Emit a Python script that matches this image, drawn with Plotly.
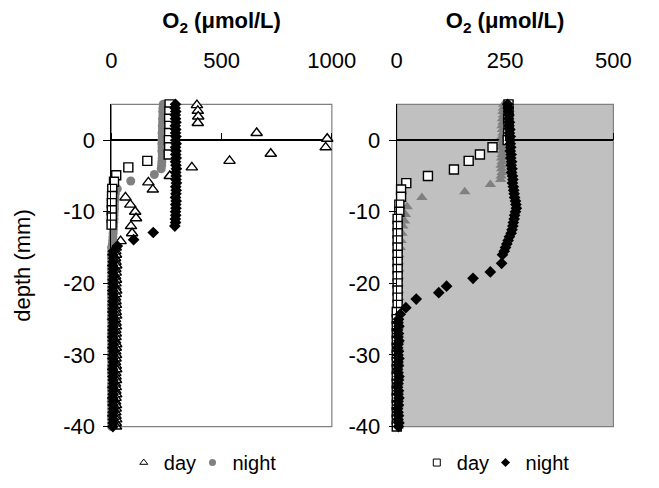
import plotly.graph_objects as go

# ---------------- data ----------------
# shared deep depth grid (mm), 0.5 mm steps
DEEP = [-15.0, -15.5, -16.0, -16.5, -17.0, -17.5, -18.0, -18.5, -19.0, -19.5,
        -20.0, -20.5, -21.0, -21.5, -22.0, -22.5, -23.0, -23.5, -24.0, -24.5,
        -25.0, -25.5, -26.0, -26.5, -27.0, -27.5, -28.0, -28.5, -29.0, -29.5,
        -30.0, -30.5, -31.0, -31.5, -32.0, -32.5, -33.0, -33.5, -34.0, -34.5,
        -35.0, -35.5, -36.0, -36.5, -37.0, -37.5, -38.0, -38.5, -39.0, -39.5,
        -40.0]

# Left panel: day (open triangles)
L_day_depth = [4.9, 4.1, 3.3, 2.4, 1.0, 0.2, -1.0, -1.9, -2.9, -3.8, -5.0, -5.9,
               -6.9, -8.0, -9.0, -10.0, -10.9, -12.0, -13.0, -14.1] + DEEP
L_day_o2 = [388, 392, 394, 392, 659, 979, 972, 723, 536, 365, 265, 168,
            188, 64, 86, 108, 112, 89, 94, 42,
            20, 18, 21, 17, 19, 22, 18, 20, 17, 21, 19, 18, 22, 20, 17, 19, 21,
            18, 20, 22, 17, 19, 21, 18, 20, 19, 17, 22, 20, 18, 21, 19, 17, 20,
            22, 18, 19, 21, 17, 20, 18, 22, 19, 17, 21, 20, 18, 19, 22, 20, 21]

# Left panel: night (grey circles)
L_night_depth = [5.5, 5.0, 4.5, 4.0, 3.5, 3.0, 2.5, 2.0, 1.5, 1.0, 0.5, 0.0,
                 -0.5, -1.0, -1.5, -2.0, -2.5, -3.0, -3.5, -4.0, -4.8, -5.7,
                 -6.8, -7.5, -8.0, -8.5, -9.0, -9.5, -10.0, -10.5, -11.0, -11.5,
                 -12.0, -12.5, -13.0, -13.5, -14.0, -14.5] + DEEP
L_night_o2 = [236, 235, 234, 233, 234, 232, 233, 231, 232, 230, 231, 230,
              229, 230, 229, 231, 230, 229, 228, 226, 195, 88,
              27, 18, 16, 15, 14, 14, 13, 12, 12, 11,
              10, 9, 8, 7, 6, 5,
              1, 2, 0, 1, 2, 1, 0, 2, 1, 0, 2, 1, 2, 0, 1, 2, 0,
              1, 2, 1, 0, 2, 1, 2, 0, 1, 1, 2, 0, 2, 1, 0, 2, 1,
              1, 0, 2, 2, 1, 0, 1, 2, 1, 0, 2, 1, 2, 0, 1, 2, 1]

# Left panel: extra profile (open squares, not in legend)
L_sq_depth = [5.0, 4.0, 3.0, 2.0, 1.0, 0.0, -1.0, -2.0, -2.9, -3.8, -4.9, -5.8,
              -6.8, -7.8, -8.8, -9.8, -10.8, -11.8]
L_sq_o2 = [264, 263, 262, 263, 262, 261, 262, 260, 163, 77, 22, 12,
           4, 3, 2, 2, 2, 1]

# Left panel: extra profile (black diamonds, not in legend)
L_dia_depth = [5.5, 5.0, 4.5, 4.0, 3.5, 3.0, 2.5, 2.0, 1.5, 1.0, 0.5, 0.0,
               -0.5, -1.0, -1.5, -2.0, -2.5, -3.0, -3.5, -4.0, -4.5, -5.0,
               -5.5, -6.0, -6.5, -7.0, -7.5, -8.0, -8.5, -9.0, -9.5, -10.0,
               -10.5, -11.0, -11.5, -12.0, -12.9, -13.9, -14.8] + DEEP[1:]
L_dia_o2 = [290, 291, 289, 292, 290, 291, 293, 290, 292, 291, 293, 292,
            294, 291, 293, 292, 294, 291, 293, 295, 292, 294, 293, 295,
            292, 294, 293, 291, 294, 292, 293, 291, 292, 290, 291, 288,
            190, 101, 27,
            9, 7, 10, 8, 6, 9, 7, 10, 8, 7, 9, 6, 8, 10, 7, 9, 8,
            6, 9, 7, 10, 8, 7, 9, 6, 8, 9, 7, 10, 8, 7, 9, 8, 6,
            9, 7, 8, 10, 7, 9, 8, 6, 9, 7, 10, 8, 7, 9, 8, 7]

# Right panel: day (open squares)
R_day_depth = [5.0, 4.0, 3.0, 2.0, 1.0, 0.0, -1.0, -2.0, -2.9, -4.1, -5.0, -6.0,
               -6.9, -7.9, -9.0, -10.0, -11.0, -12.0, -13.0, -14.0, -15.0, -16.0,
               -17.0, -18.0, -19.0, -20.0, -21.0, -22.0, -23.0, -24.0, -25.0,
               -26.0, -27.0, -28.0, -29.0, -30.0, -31.0, -32.0, -33.0, -34.0,
               -35.0, -36.0, -37.0, -38.0, -39.0, -40.0]
R_day_o2 = [258, 258, 257, 258, 257, 256, 221, 192, 166, 132, 72, 22,
            10, 10, 6, 6, 2, 2, 2, 2, 2, 2,
            2, 2, 2, 2, 2, 2, 2, 0, 0,
            0, 0, 0, 0, 0, 0, 0, 0, 0,
            0, 0, 0, 0, 0, 0]

# Right panel: night (black diamonds)
R_night_depth = [5.0, 4.5, 4.0, 3.5, 3.0, 2.5, 2.0, 1.5, 1.0, 0.5, 0.0,
                 -0.5, -1.0, -1.5, -2.0, -2.5, -3.0, -3.5, -4.0, -4.5, -5.0,
                 -5.5, -6.0, -6.5, -7.0, -7.5, -8.0, -8.5, -9.0, -9.5, -10.0,
                 -10.5, -11.0, -11.5, -12.0, -12.5, -13.0, -13.5, -14.0, -14.5,
                 -15.0, -15.5, -16.0, -17.2, -18.4, -19.3, -20.4, -21.3, -22.2,
                 -23.4, -24.3] + DEEP[20:]
R_night_o2 = [256, 257, 258, 259, 258, 260, 259, 261, 260, 262, 262,
              262, 263, 262, 264, 263, 265, 264, 266, 265, 267,
              268, 267, 269, 270, 271, 272, 274, 275, 276, 274,
              272, 271, 269, 268, 266, 264, 260, 257, 254,
              251, 248, 244, 242, 216, 176, 115, 97, 45,
              21, 8,
              4, 3, 5, 2, 4, 3, 5, 3, 2, 4, 3, 5, 3, 4, 2, 3, 5, 4, 3, 2, 4, 3,
              5, 3, 4, 2, 3, 4, 3, 5, 4]

# Right panel: extra profile (grey triangles, not in legend)
R_tri_depth = [5.0, 4.5, 4.0, 3.5, 3.0, 2.5, 2.0, 1.5, 1.0, 0.5, 0.0,
               -0.5, -1.0, -1.5, -2.0, -2.5, -3.0, -3.5, -4.0, -4.5, -5.0,
               -5.5, -6.2, -7.2, -8.0, -9.3, -10.4, -11.3, -12.0, -13.0, -14.0,
               -15.0, -16.0, -17.0, -18.0, -19.0, -20.0, -21.0, -22.0, -23.0,
               -24.0, -25.0, -26.0, -27.0, -28.0, -29.0, -30.0, -31.0, -32.0,
               -33.0, -34.0, -35.0, -36.0, -37.0, -38.0, -39.0, -40.0]
R_tri_o2 = [247, 246, 245, 246, 244, 245, 243, 244, 245, 243, 244,
            243, 242, 244, 243, 242, 243, 241, 242, 243, 241,
            240, 216, 157, 58, 24, 20, 18, 14, 12, 10,
            8, 5, 4, 5, 4, 3, 4, 5, 3,
            4, 3, 4, 3, 5, 4, 3, 4, 3,
            4, 3, 4, 3, 4, 3, 4, 3]

X_TITLE = "<b>O<sub>2</sub> (μmol/L)</b>"
Y_TITLE = "depth (mm)"
LEFT_TICKS = [0, 500, 1000]
RIGHT_TICKS = [0, 250, 500]
DEPTH_TICKS = [0, -10, -20, -30, -40]
DEPTH_TICK_TEXT = ["0", "-10", "-20", "-30", "-40"]

# ---------------- figure ----------------
W, H = 659, 488
FAM = "Liberation Sans, Arial, sans-serif"
FONT = dict(family=FAM, size=22, color="black")
TFONT = dict(family=FAM, size=22, color="black")
LFONT = dict(family=FAM, size=20, color="black")
GREY = "#808080"

fig = go.Figure()

def add(x, y, xa, ya, symbol, size, fill, line_w=1.4, line_c="black"):
    fig.add_trace(go.Scatter(
        x=x, y=y, xaxis=xa, yaxis=ya, mode="markers", showlegend=False,
        cliponaxis=False, hoverinfo="skip",
        marker=dict(symbol=symbol, size=size, color=fill,
                    line=dict(width=line_w, color=line_c))))

# left panel
add(L_day_o2, L_day_depth, "x", "y", "triangle-up", 10, "white")
add(L_night_o2, L_night_depth, "x", "y", "circle", 9, GREY, 0, GREY)
add(L_sq_o2, L_sq_depth, "x", "y", "square", 9, "white")
add(L_dia_o2, L_dia_depth, "x", "y", "diamond", 9, "black", 0)
# right panel
add(R_tri_o2, R_tri_depth, "x2", "y2", "triangle-up", 10, GREY, 0, GREY)
add(R_day_o2, R_day_depth, "x2", "y2", "square", 9, "white")
add(R_night_o2, R_night_depth, "x2", "y2", "diamond", 9, "black", 0)

# legend entries (one small legend per entry, to control spacing)
def leg(name, symbol, fill, legend, lw=1, size=7):
    fig.add_trace(go.Scatter(
        x=[None], y=[None], mode="markers", name=name, legend=legend,
        marker=dict(symbol=symbol, size=size, color=fill,
                    line=dict(width=lw, color="black" if lw else fill))))

leg("day", "triangle-up", "white", "legend")
leg("night", "circle", GREY, "legend2", 0)
leg("day", "square", "white", "legend3")
leg("night", "diamond", "black", "legend4", 0)

# dummy traces so the tick-only overlay axes exist
for xa, ya in (("x3", "y"), ("x4", "y2")):
    fig.add_trace(go.Scatter(x=[None], y=[None], xaxis=xa, yaxis=ya,
                             showlegend=False, hoverinfo="skip"))

yb, yt = 1 - 430 / H, 1 - 99 / H
xdomL = [102 / W, 333 / W]
xdomR = [401 / W, 628 / W]
zero_pos = yb + (0 - (-40)) / 45 * (yt - yb)
lab_pos = 1 - 66 / H

common_x = dict(side="top", anchor="free", position=lab_pos, showgrid=False,
                zeroline=False, showline=False, ticks="", tickfont=FONT,
                title=dict(text=X_TITLE, font=TFONT, standoff=20))
common_y = dict(range=[-40, 5], tickvals=DEPTH_TICKS, ticktext=DEPTH_TICK_TEXT,
                showgrid=False,
                zeroline=True, zerolinecolor="black", zerolinewidth=1.5,
                showline=True, linecolor="black", linewidth=1,
                ticks="outside", ticklen=7, tickcolor="black", tickfont=FONT,
                ticklabelstandoff=4)
tick_x = dict(side="top", anchor="free", position=zero_pos, ticks="outside",
              ticklen=7, tickcolor="black", showticklabels=False,
              showgrid=False, zeroline=False, showline=False)

def legend_at(px):
    return dict(orientation="h", x=px / W, xanchor="left",
                y=1 - 467 / H, yanchor="middle", font=LFONT, itemwidth=30,
                bgcolor="rgba(0,0,0,0)")

fig.update_layout(
    width=W, height=H, margin=dict(l=0, r=0, t=0, b=0),
    paper_bgcolor="white", plot_bgcolor="white", font=FONT,
    xaxis=dict(domain=xdomL, range=[0, 1000], tickvals=LEFT_TICKS, **common_x),
    xaxis2=dict(domain=xdomR, range=[0, 500], tickvals=RIGHT_TICKS, **common_x),
    xaxis3=dict(domain=xdomL, range=[0, 1000], tickvals=LEFT_TICKS,
                overlaying="x", **tick_x),
    xaxis4=dict(domain=xdomR, range=[0, 500], tickvals=RIGHT_TICKS,
                overlaying="x2", **tick_x),
    yaxis=dict(domain=[yb, yt], anchor="x",
               title=dict(text=Y_TITLE, font=FONT, standoff=26), **common_y),
    yaxis2=dict(domain=[yb, yt], anchor="x2", **common_y),
    legend=legend_at(115),
    legend2=legend_at(187),
    legend3=legend_at(422),
    legend4=legend_at(494),
    shapes=[
        dict(type="rect", xref="x2 domain", yref="y2 domain", x0=0, x1=1,
             y0=0, y1=1, fillcolor="#c0c0c0", line=dict(width=0), layer="below"),
        dict(type="rect", xref="x domain", yref="y domain", x0=0, x1=1,
             y0=0, y1=1, line=dict(color=GREY, width=1.2), layer="below"),
        dict(type="rect", xref="x2 domain", yref="y2 domain", x0=0, x1=1,
             y0=0, y1=1, line=dict(color=GREY, width=1.2), layer="below"),
    ],
)

fig.write_html("out.html")
